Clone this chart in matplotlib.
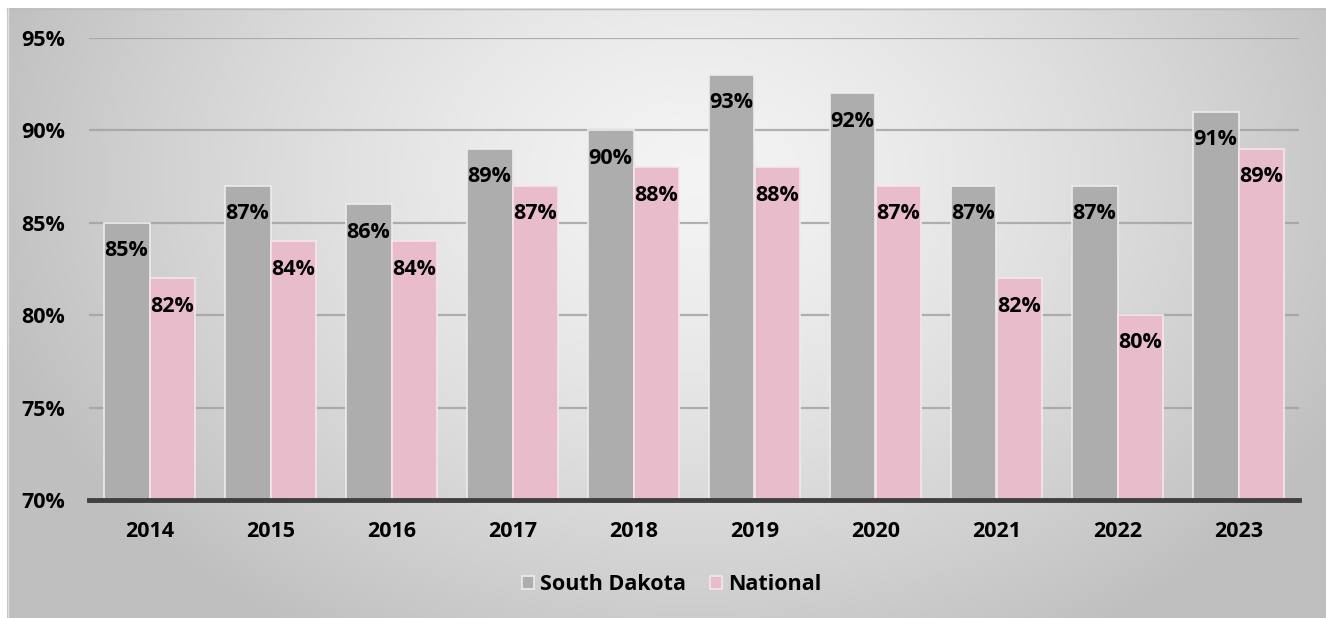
import numpy as np
import matplotlib.pyplot as plt

# data
years = ['2014', '2015', '2016', '2017', '2018', '2019', '2020', '2021', '2022', '2023']
south_dakota = [85, 87, 86, 89, 90, 93, 92, 87, 87, 91]
national = [82, 84, 84, 87, 88, 88, 87, 82, 80, 89]
y_ticks = [70, 75, 80, 85, 90, 95]

W, H = 1326, 618
FONT = ['Open Sans', 'DejaVu Sans']
FS = 15.5
plt.rcParams['font.family'] = FONT

fig = plt.figure(figsize=(W / 100, H / 100), dpi=100)

# background panel with radial gradient
bg = fig.add_axes([0, 0, 1, 1])
bg.set_xlim(0, W)
bg.set_ylim(H, 0)
bg.axis('off')
xx, yy = np.meshgrid(np.arange(W), np.arange(H))
r = np.sqrt(((xx - 690) / 720.0) ** 2 + ((yy - 170) / 540.0) ** 2)
shade = np.clip(0.955 - 0.2 * r ** 1.4, 0.75, 1.0)
img = np.dstack([shade, shade, shade])
bg.imshow(img, extent=(7, W, H, 8), aspect='auto', zorder=0)
bg.plot([7, W], [8.5, 8.5], color='#bdbdbd', lw=1, zorder=1)
bg.plot([7.5, 7.5], [8, H], color='#e0e0e0', lw=1, zorder=1)

ax = fig.add_axes([89 / W, 1 - 500 / H, (1299 - 89) / W, (500 - 38) / H])
ax.patch.set_alpha(0)

x = np.arange(len(years))
bw = 0.38
b1 = ax.bar(x - bw / 2, south_dakota, bw, color='#adadad', edgecolor='#ececec',
            linewidth=1.2, label='South Dakota', zorder=3)
b2 = ax.bar(x + bw / 2, national, bw, color='#e8bccb', edgecolor='#f6e6ec',
            linewidth=1.2, label='National', zorder=3)

for bars, vals in [(b1, south_dakota), (b2, national)]:
    for rect, v in zip(bars, vals):
        ax.annotate(f'{v}%', (rect.get_x() + rect.get_width() / 2, v),
                    xytext=(0, -20), textcoords='offset points',
                    ha='center', va='center', fontsize=FS, fontweight='bold',
                    color='black', zorder=4)

ax.set_xlim(-0.5, len(years) - 0.5)
ax.set_ylim(70, 95)
ax.set_yticks(y_ticks)
ax.set_yticklabels([f'{t}%' for t in y_ticks])
ax.set_xticks(x)
ax.set_xticklabels(years)
ax.tick_params(axis='both', length=0, labelsize=FS)
ax.tick_params(axis='x', pad=15)
ax.tick_params(axis='y', pad=17)
for lab in ax.get_xticklabels() + ax.get_yticklabels():
    lab.set_fontweight('bold')

ax.grid(axis='y', color='#a0a0a0', linewidth=1.6, alpha=0.8, zorder=1)
for s in ['top', 'right', 'left']:
    ax.spines[s].set_visible(False)
ax.spines['bottom'].set_color('#404040')
ax.spines['bottom'].set_linewidth(3.5)
ax.spines['bottom'].set_zorder(5)

leg = fig.legend(handles=[b1, b2], loc='center', bbox_to_anchor=(672 / W, 1 - 585 / H),
                 ncol=2, frameon=False, handlelength=0.55, handleheight=0.55,
                 handletextpad=0.3, columnspacing=1.1,
                 prop={'family': FONT, 'weight': 'bold', 'size': FS})

fig.savefig('out.png', dpi=100)
